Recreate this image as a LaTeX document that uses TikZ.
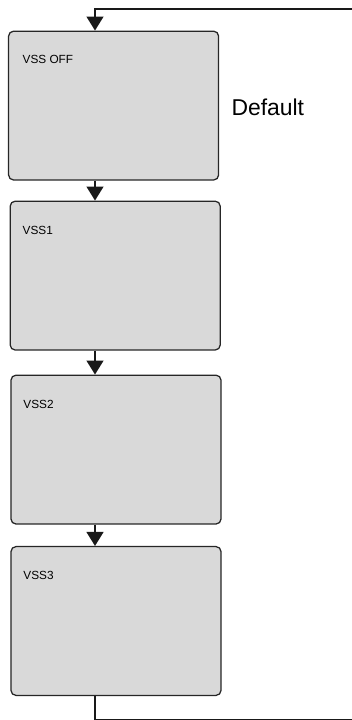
\documentclass[tikz,border=0pt]{standalone}
\usepackage{fontspec}
\setmainfont{Liberation Sans}
\usepackage{tikz}
\usetikzlibrary{arrows.meta, positioning, calc}

\begin{document}
\begin{tikzpicture}[
    mode/.style={
        rectangle, draw=black!85, line width=0.9pt, fill=black!15,
        rounded corners=3.5pt, minimum width=5.25cm, minimum height=3.72cm
    },
    tag/.style={font=\fontsize{8.4}{10}\selectfont, anchor=base west, inner sep=0pt},
    arr/.style={-{Triangle[width=12pt, length=10pt]}, line width=1.4pt, black!90},
    line/.style={line width=1.4pt, black!90},
]

% Fixed frame (the loop runs off the right and bottom edges)
\useasboundingbox (0,0) rectangle (8.8,18);
\clip (0,0) rectangle (8.8,18);

% Mode boxes
\node[mode] (off)   at (2.84, 15.36) {};
\node[mode] (one)   at (2.88, 11.11) {};
\node[mode] (two)   at (2.90, 6.76)  {};
\node[mode] (three) at (2.90, 2.475) {};

% Box captions
\node[tag] (offtxt)   at ($(off.north west)+(0.36,-0.83)$)   {VSS OFF};
\node[tag] (onetxt)   at ($(one.north west)+(0.32,-0.84)$)   {VSS1};
\node[tag] (twotxt)   at ($(two.north west)+(0.32,-0.84)$)   {VSS2};
\node[tag] (threetxt) at ($(three.north west)+(0.32,-0.84)$) {VSS3};

\node[font=\fontsize{16.3}{19}\selectfont, anchor=base west, inner sep=0pt]
    (default) at ($(off.east)+(0.3,-0.24)$) {Default};

% Spine and loop corners
\coordinate (spine)  at (2.375, 0);
\coordinate (loopbr) at (9.2, 0.0);
\coordinate (looptr) at (9.2, 17.78);

% Steps down
\draw[arr] (off.south -| spine) -- (one.north -| spine);
\draw[arr] (one.south -| spine) -- (two.north -| spine);
\draw[arr] (two.south -| spine) -- (three.north -| spine);

% Back to the top
\draw[line] (three.south -| spine) -- (spine |- loopbr) -- (loopbr);
\draw[arr] (looptr) -- (spine |- looptr) -- (off.north -| spine);

\end{tikzpicture}
\end{document}
